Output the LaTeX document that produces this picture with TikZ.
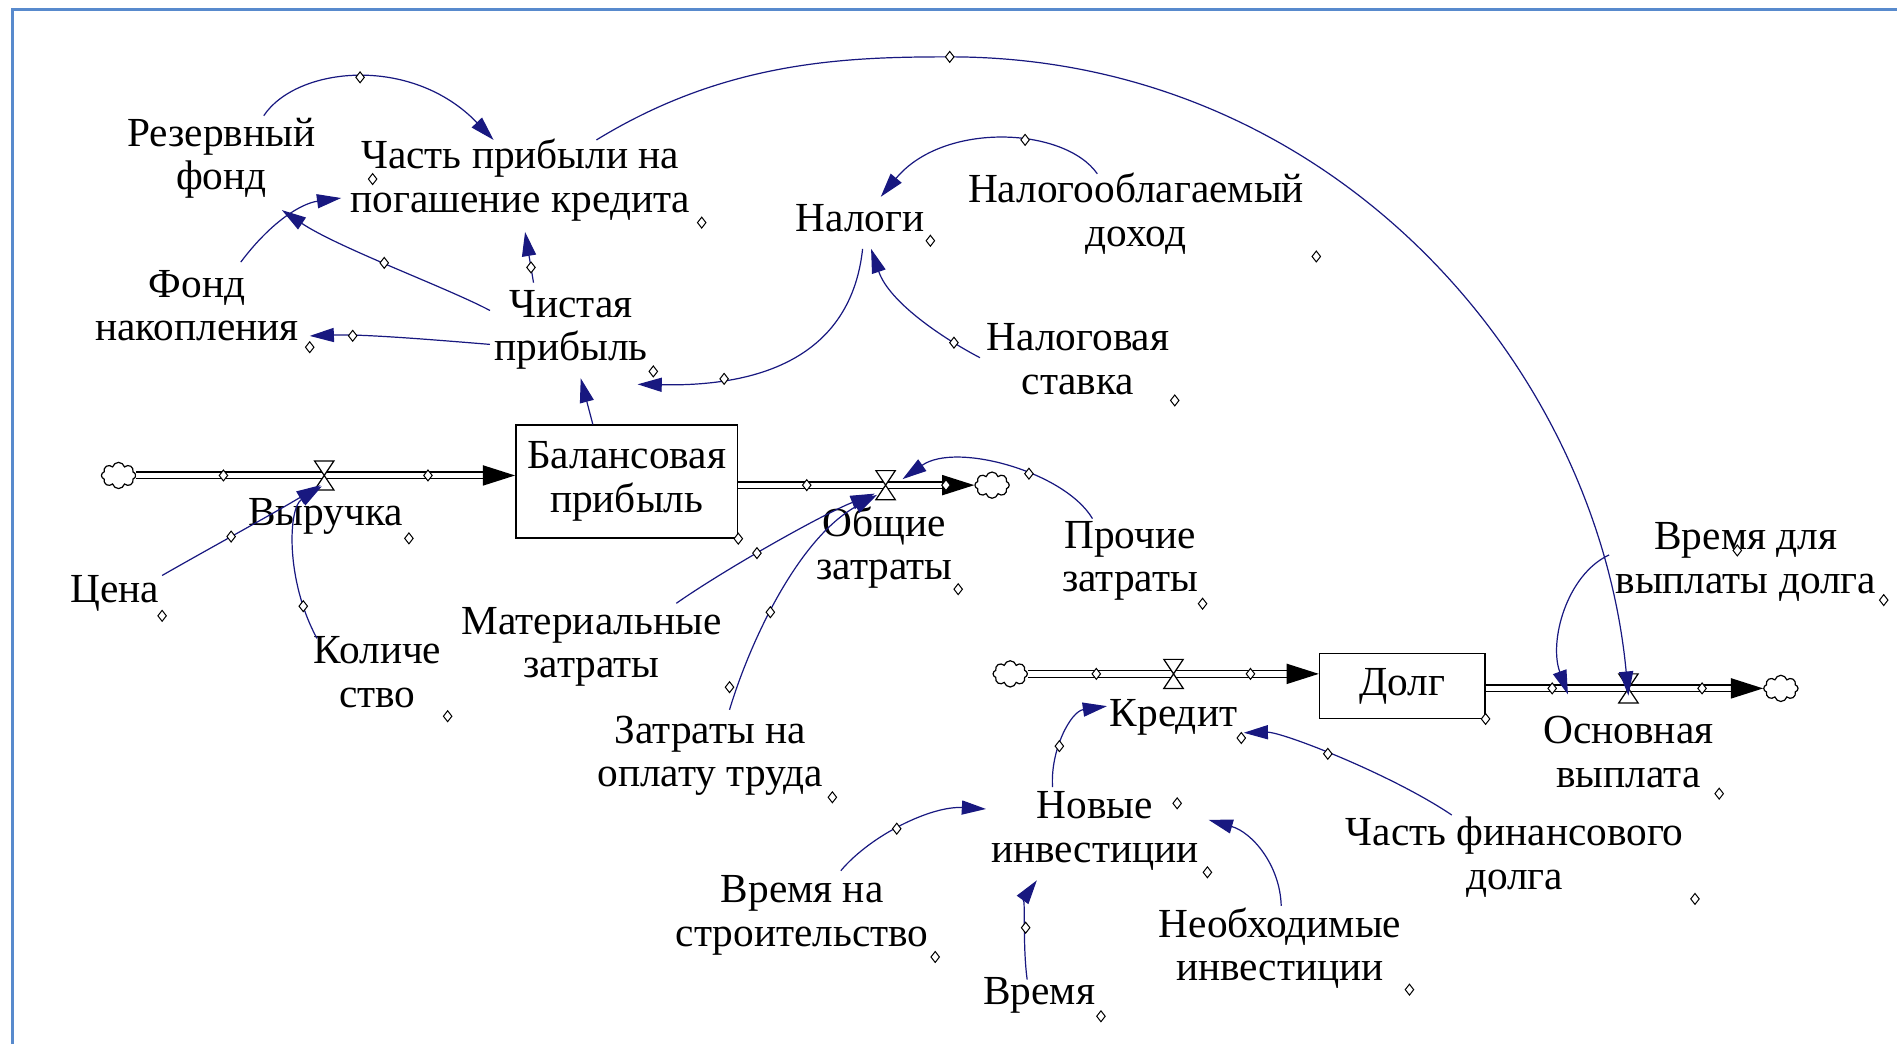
\documentclass[tikz,border=0pt]{standalone}
\usepackage{fontspec}
\setmainfont{Liberation Serif}
\usetikzlibrary{arrows.meta,shapes.geometric,shapes.symbols}

\definecolor{lnk}{RGB}{24,24,128}
\definecolor{frm}{RGB}{88,138,205}
\newcommand{\vlv}[1]{\draw[fill=white, line width=0.6pt] ([shift={(-8,-12)}]#1) -- ([shift={(8,-12)}]#1) -- ([shift={(-8,12)}]#1) -- ([shift={(8,12)}]#1) -- cycle;}

\begin{document}
\begin{tikzpicture}[x=0.6pt, y=-0.6pt, line width=0.5pt,
  var/.style={align=center, inner sep=1pt, yshift=-1.6pt, font=\fontsize{20.5}{21.6}\selectfont},
  stock/.style={align=center, inner sep=1pt, font=\fontsize{20.5}{21.6}\selectfont, draw, line width=0.7pt},
  hnd/.style={diamond, draw=black, fill=white, inner sep=0pt, minimum width=4.4pt, minimum height=5.6pt, line width=0.5pt},
  link/.style={draw=lnk, line width=0.6pt, -{Triangle[length=12pt, width=7pt]}},
  pipe/.style={double, double distance=2.6pt, line width=0.7pt, -{Triangle[length=16pt, width=10pt]}},
  sky/.style={cloud, cloud puffs=8, draw, fill=white, inner sep=0pt, minimum width=17pt, minimum height=13pt, line width=0.6pt}]
  \useasboundingbox (0,0) rectangle (1568,863);
  \draw[frm, line width=1.5pt] (10,863) -- (10,8) -- (1568,8);

  \node[var] (rez) at (183,128) {Резервный\\фонд};
  \node[var] (chast) at (430,146) {Часть прибыли на\\погашение кредита};
  \node[var] (nalogi) at (711,178) {Налоги};
  \node[var] (nalogob) at (939,174) {Налогооблагаемый\\доход};
  \node[var] (fond) at (163,250) {Фонд\\накопления};
  \node[var] (chist) at (472,270) {Чистая\\прибыль};
  \node[var] (stavka) at (891,294) {Налоговая\\ставка};
  \node[stock, minimum width=110pt, minimum height=56pt] (balans) at (518,398) {Балансовая\\прибыль};
  \node[var] (vyr) at (269,424) {Выручка};
  \node[var] (cena) at (95,488) {Цена};
  \node[var] (kol) at (312,553) {Количе\\ство};
  \node[var] (mat) at (489,532) {Материальные\\затраты};
  \node[var] (obsh) at (731,450) {Общие\\затраты};
  \node[var] (proch) at (934,461) {Прочие\\затраты};
  \node[var] (zatr) at (587,622) {Затраты на\\оплату труда};
  \node[var] (vremdolg) at (1443,462) {Время для\\выплаты долга};
  \node[stock, minimum width=82pt, minimum height=32pt] (dolg) at (1159,567) {Долг};
  \node[var] (kredit) at (970,590) {Кредит};
  \node[var] (osnov) at (1346,619) {Основная\\выплата};
  \node[var] (novye) at (905,684) {Новые\\инвестиции};
  \node[var] (chfin) at (1252,706) {Часть финансового\\долга};
  \node[var] (vstroy) at (663,754) {Время на\\строительство};
  \node[var] (neobh) at (1058,781) {Необходимые\\инвестиции};
  \node[var] (vremya) at (859,820) {Время};

  % flows
  \node[sky] (cl1) at (98,393) {};
  \node[sky] (cl2) at (820,401) {};
  \node[sky] (cl3) at (835,557) {};
  \node[sky] (cl4) at (1472,569) {};
  \coordinate (vvyr) at (268,393);
  \coordinate (vobsh) at (732,401);
  \coordinate (vkred) at (970,557);
  \coordinate (vosn) at (1346,569);
  \draw[pipe] (cl1) -- node[hnd, pos=0.23] (p1) {} node[hnd, pos=0.77] (p2) {} (balans.west |- cl1);
  \draw[pipe] (balans.east |- vobsh) -- node[hnd, pos=0.29] (p3) {} node[hnd, pos=0.88] (p4) {} (cl2);
  \draw[pipe] (cl3) -- node[hnd, pos=0.235] (p5) {} node[hnd, pos=0.765] (p6) {} (dolg.west |- cl3);
  \draw[pipe] (dolg.east |- vosn) -- node[hnd, pos=0.24] (p7) {} node[hnd, pos=0.78] (p8) {} (cl4);
  \vlv{vvyr}
  \vlv{vobsh}
  \vlv{vkred}
  \vlv{vosn}

  % links
  \draw[link] ([shift={(35,-35)}]rez.center) .. controls (245,55) and (340,45) .. node[hnd, pos=0.5] (a1) {} ([shift={(-22,-33)}]chast.center);
  \draw[link] ([shift={(36,-36)}]fond.center) .. controls (225,182) and (250,168) .. ([shift={(-148,15)}]chast.center);
  \draw[link] ([shift={(-67,-16)}]chist.center) .. controls (370,238) and (280,205) .. node[hnd, pos=0.53] (a3) {} ([shift={(50,43)}]rez.center);
  \draw[link] ([shift={(-31,-39)}]chist.center) -- node[hnd, pos=0.3] (a4) {} ([shift={(4,43)}]chast.center);
  \draw[link] ([shift={(-67,12)}]chist.center) .. controls (360,281) and (300,276) .. node[hnd, pos=0.75] (a5) {} ([shift={(93,25)}]fond.center);
  \draw[link] ([shift={(2,25)}]nalogi.center) .. controls (705,280) and (650,320) .. node[hnd, pos=0.78] (a6) {} ([shift={(55,45)}]chist.center);
  \draw[link] ([shift={(-32,-33)}]nalogob.center) .. controls (880,105) and (780,100) .. node[hnd, pos=0.4] (a7) {} ([shift={(17,-18)}]nalogi.center);
  \draw[link] ([shift={(-81,-1)}]stavka.center) .. controls (780,280) and (735,250) .. node[hnd, pos=0.22] (a8) {} ([shift={(9,25)}]nalogi.center);
  \draw[link] ([shift={(-28,0)}]balans.north) -- ([shift={(8,40)}]chist.center);
  \draw[link] ([shift={(63,-33)}]chast.center) .. controls (600,50) and (700,47) .. (785,47) node[hnd] (a10) {} .. controls (1100,47) and (1320,300) .. ([shift={(0,6)}]vosn);
  \draw[link] ([shift={(39,-15)}]cena.center) .. controls (170,455) and (225,425) .. node[hnd, pos=0.45] (a11) {} ([shift={(-3,8)}]vvyr);
  \draw[link] ([shift={(-50,-28)}]kol.center) .. controls (236,480) and (238,420) .. node[hnd, pos=0.18] (a12) {} ([shift={(-2,9)}]vvyr);
  \draw[link] ([shift={(70,-36)}]mat.center) .. controls (600,470) and (680,425) .. node[hnd, pos=0.42] (a13) {} ([shift={(-9,7)}]vobsh);
  \draw[link] ([shift={(16,-38)}]zatr.center) .. controls (620,530) and (660,445) .. node[hnd, pos=0.42] (a14) {} ([shift={(-7,8)}]vobsh);
  \draw[link] ([shift={(-31,-35)}]proch.center) .. controls (880,390) and (790,365) .. node[hnd, pos=0.4] (a15) {} ([shift={(14,-5)}]vobsh);
  \draw[link] ([shift={(-113,-6)}]vremdolg.center) .. controls (1295,475) and (1280,530) .. ([shift={(-50,5)}]vosn);
  \draw[link] ([shift={(-35,-36)}]novye.center) .. controls (868,620) and (885,588) .. node[hnd, pos=0.38] (a17) {} ([shift={(-55,-9)}]kredit.center);
  \draw[link] ([shift={(-52,-35)}]chfin.center) .. controls (1150,640) and (1060,605) .. node[hnd, pos=0.55] (a18) {} ([shift={(58,13)}]kredit.center);
  \draw[link] ([shift={(32,-37)}]vstroy.center) .. controls (720,690) and (770,666) .. node[hnd, pos=0.45] (a19) {} ([shift={(-90,-18)}]novye.center);
  \draw[link] ([shift={(-10,-13)}]vremya.center) .. controls (845,780) and (848,740) .. node[hnd, pos=0.45] (a20) {} ([shift={(-48,41)}]novye.center);
  \draw[link] ([shift={(1,-35)}]neobh.center) .. controls (1058,715) and (1035,688) .. ([shift={(94,-9)}]novye.center);

  % variable handles
  \node[hnd] (hrez) at (308,148) {};
  \node[hnd] (hchast) at (580,184) {};
  \node[hnd] (hnalogi) at (769,199) {};
  \node[hnd] (hnalogob) at (1088,212) {};
  \node[hnd] (hfond) at (256,287) {};
  \node[hnd] (hchist) at (540,307) {};
  \node[hnd] (hstavka) at (971,331) {};
  \node[hnd] (hbalans) at (balans.south east) {};
  \node[hnd] (hvyr) at (338,445) {};
  \node[hnd] (hcena) at (134,509) {};
  \node[hnd] (hkol) at (370,592) {};
  \node[hnd] (hmat) at (603,568) {};
  \node[hnd] (hobsh) at (792,487) {};
  \node[hnd] (hproch) at (994,499) {};
  \node[hnd] (hzatr) at (688,659) {};
  \node[hnd] (hvd) at (1436,455) {};
  \node[hnd] (hvremdolg) at (1557,496) {};
  \node[hnd] (hdolg) at (dolg.south east) {};
  \node[hnd] (hkredit) at (1026,610) {};
  \node[hnd] (hosnov) at (1421,656) {};
  \node[hnd] (hnovye1) at (973,664) {};
  \node[hnd] (hnovye) at (998,721) {};
  \node[hnd] (hchfin) at (1401,743) {};
  \node[hnd] (hvstroy) at (773,791) {};
  \node[hnd] (hneobh) at (1165,818) {};
  \node[hnd] (hvremya) at (910,840) {};
\end{tikzpicture}
\end{document}
